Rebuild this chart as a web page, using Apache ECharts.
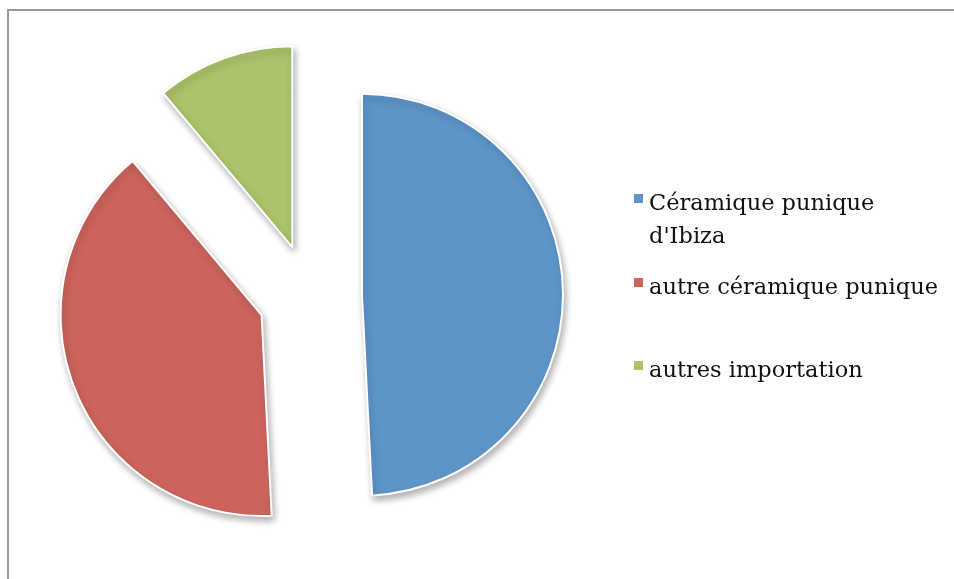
<!DOCTYPE html>
<html><head><meta charset="utf-8">
<script src="https://cdn.jsdelivr.net/npm/echarts@6/dist/echarts.min.js"></script>
<style>html,body{margin:0;padding:0;background:#fff}#c{width:954px;height:579px}</style>
</head><body><div id="c"></div>
<script>
const categories = ["Céramique punique d'Ibiza", "autre céramique punique", "autres importation"];
const values = [49.2, 39.7, 11.1];
const colors = ['#5E95C9', '#CD645C', '#ABC46B'];
const legendLabels = ["Céramique punique\nd'Ibiza", "autre céramique punique", "autres importation"];

const chart = echarts.init(document.getElementById('c'), null, {renderer: 'canvas'});
const font = 'DejaVu Serif';
const legendTops = [188, 272, 355];
const iconH = [56, 23, 23];
const legends = categories.map((name, i) => ({
  data: [name],
  orient: 'vertical',
  left: 632,
  top: legendTops[i],
  itemWidth: 11,
  itemHeight: iconH[i],
  itemGap: 0,
  icon: 'path://M0,0h11v11h-11z M10.99,' + (iconH[i] - 0.01) + 'h0.01v0.01h-0.01z',
  selectedMode: false,
  padding: 0,
  formatter: () => legendLabels[i],
  textStyle: {fontFamily: font, fontSize: 22.5, color: '#111', lineHeight: 33}
}));
chart.setOption({
  animation: false,
  color: colors,
  graphic: [{
    type: 'rect', shape: {x: 8, y: 10, width: 1000, height: 1000},
    style: {fill: 'none', stroke: '#9a9a9a', lineWidth: 2}, silent: true
  }],
  legend: legends,
  series: [{
    type: 'pie',
    center: [310, 296],
    radius: 201,
    startAngle: 90,
    clockwise: true,
    selectedMode: 'multiple',
    selectedOffset: 52,
    avoidLabelOverlap: false,
    label: {show: false},
    labelLine: {show: false},
    emphasis: {disabled: true},
    itemStyle: {
      borderColor: '#fff', borderWidth: 2,
      shadowBlur: 7, shadowOffsetX: 2, shadowOffsetY: 4, shadowColor: 'rgba(0,0,0,0.3)'
    },
    data: categories.map((n, i) => ({name: n, value: values[i], selected: true}))
  }]
});
</script></body></html>
